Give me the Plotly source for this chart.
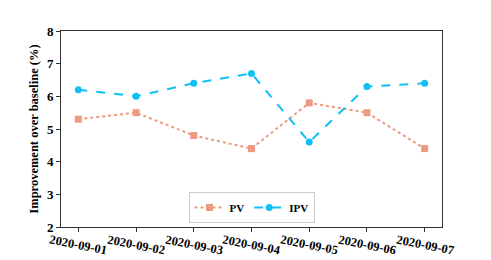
import plotly.graph_objects as go

dates = ["2020-09-01", "2020-09-02", "2020-09-03", "2020-09-04",
         "2020-09-05", "2020-09-06", "2020-09-07"]
pv = [5.3, 5.5, 4.8, 4.4, 5.8, 5.5, 4.4]
ipv = [6.2, 6.0, 6.4, 6.7, 4.6, 6.3, 6.4]
y_ticks = [2, 3, 4, 5, 6, 7, 8]

FONT = "Liberation Serif"
PV_COLOR = "#EE9A80"
IPV_COLOR = "#12BFF5"

fig = go.Figure()
fig.add_trace(go.Scatter(
    x=dates, y=pv, name="<b>PV</b>", mode="lines+markers",
    line=dict(color=PV_COLOR, width=2, dash="dot"),
    marker=dict(symbol="square", size=7, color=PV_COLOR),
))
fig.add_trace(go.Scatter(
    x=dates, y=ipv, name="<b>IPV</b>", mode="lines+markers",
    line=dict(color=IPV_COLOR, width=2, dash="dash"),
    marker=dict(symbol="circle", size=7, color=IPV_COLOR),
))

for d in dates:
    fig.add_annotation(
        x=d, y=0, xref="x", yref="paper", yshift=-18,
        text="<b>%s</b>" % d, showarrow=False, textangle=11,
        xanchor="center", yanchor="middle",
        font=dict(family=FONT, size=12.5, color="black"),
    )

fig.update_layout(
    width=491, height=260,
    margin=dict(l=61, r=49, t=31, b=33),
    paper_bgcolor="white", plot_bgcolor="white",
    font=dict(family=FONT, color="black"),
    showlegend=True,
    legend=dict(
        orientation="h", x=0.5, xanchor="center", y=0.02, yanchor="bottom",
        bordercolor="#cccccc", borderwidth=1, bgcolor="white",
        font=dict(family=FONT, size=11, color="black"),
        itemwidth=30,
    ),
)
fig.update_xaxes(
    type="category", range=[-0.3, 6.3], showticklabels=False,
    ticks="outside", ticklen=4, tickcolor="#333", tickwidth=1,
    showline=True, linecolor="#333", linewidth=1, mirror=True,
    showgrid=False, zeroline=False,
)
fig.update_yaxes(
    range=[2, 8], tickvals=y_ticks, ticktext=["<b>%d</b>" % v for v in y_ticks],
    ticks="outside", ticklen=4, tickcolor="#333", tickwidth=1,
    showline=True, linecolor="#333", linewidth=1, mirror=True,
    showgrid=False, zeroline=False,
    tickfont=dict(family=FONT, size=13, color="black"),
    title=dict(text="<b>Improvement over baseline (%)</b>",
               font=dict(family=FONT, size=12.5, color="black"), standoff=5),
)

fig.write_html("out.html", config={"displayModeBar": False},
               post_script="document.body.style.margin='0';document.body.style.overflow='hidden';")
